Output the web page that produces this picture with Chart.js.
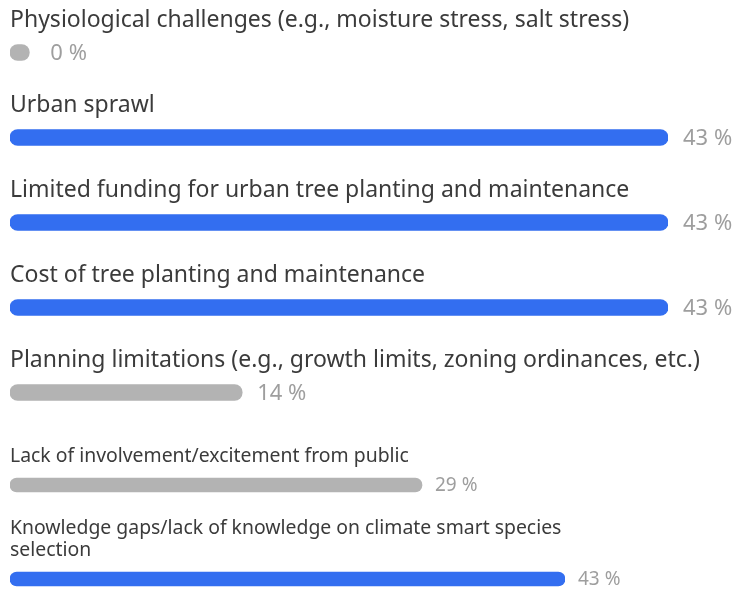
<!DOCTYPE html>
<html>
<head>
<meta charset="utf-8">
<script src="https://cdn.jsdelivr.net/npm/chart.js@4"></script>
<style>
  html, body { margin: 0; padding: 0; background: #fff; overflow: hidden; }
  #wrap { position: relative; width: 737px; height: 590px; overflow: hidden; }
  canvas { position: absolute; left: 0; }
  #topChart { top: 0; }
  #bottomChart { top: 400px; }
</style>
</head>
<body>
<div id="wrap">
  <canvas id="topChart" width="737" height="435"></canvas>
  <canvas id="bottomChart" width="737" height="226"></canvas>
</div>
<script>
// Data (share of respondents, %)
const topCategories = [
  "Physiological challenges (e.g., moisture stress, salt stress)",
  "Urban sprawl",
  "Limited funding for urban tree planting and maintenance",
  "Cost of tree planting and maintenance",
  "Planning limitations (e.g., growth limits, zoning ordinances, etc.)",
];
const topValues = [0, 42.9, 42.9, 42.9, 14.3];

const bottomCategories = [
  "Lack of involvement/excitement from public",
  "Knowledge gaps/lack of knowledge on climate smart species selection",
];
const bottomValues = [28.6, 42.9];

const BLUE = "#336ef0";
const GREY = "#b3b3b3";

function barColors(values) {
  const max = Math.max(...values);
  return values.map((v) => (v === max && v > 0 ? BLUE : GREY));
}

// wrap a label into lines that fit maxWidth
function wrapText(ctx, text, maxWidth) {
  const words = text.split(" ");
  const lines = [];
  let line = "";
  words.forEach((w) => {
    const test = line ? line + " " + w : w;
    if (ctx.measureText(test).width > maxWidth && line) {
      lines.push(line);
      line = w;
    } else {
      line = test;
    }
  });
  if (line) lines.push(line);
  return lines;
}

// draws the category text above each bar and the % after it
function labelPlugin(opts) {
  return {
    id: "barLabels",
    afterDatasetsDraw(chart) {
      const { ctx } = chart;
      const meta = chart.getDatasetMeta(0);
      const labels = chart.data.labels;
      const values = chart.data.datasets[0].data;
      ctx.save();
      meta.data.forEach((bar, i) => {
        // category label
        ctx.font = opts.labelFont;
        ctx.fillStyle = "#3b3b3b";
        ctx.textAlign = "left";
        ctx.textBaseline = "alphabetic";
        const lines = wrapText(ctx, labels[i], opts.wrapWidth);
        lines.forEach((ln, j) => {
          const y = bar.y - opts.labelGap - (lines.length - 1 - j) * opts.lineHeight;
          ctx.fillText(ln, 10, y);
        });
        // value label
        ctx.font = opts.valueFont;
        ctx.fillStyle = "#9e9e9e";
        ctx.textBaseline = "middle";
        const gap = values[i] === 0 ? opts.valueGap + 6 : opts.valueGap;
        ctx.fillText(Math.round(values[i]) + " %", bar.x + gap, bar.y + 1);
      });
      ctx.restore();
    },
  };
}

function makeChart(id, categories, values, cfg) {
  return new Chart(document.getElementById(id), {
    type: "bar",
    data: {
      labels: categories,
      datasets: [
        {
          data: values,
          base: cfg.xMin,
          backgroundColor: barColors(values),
          barThickness: cfg.thickness,
          borderRadius: cfg.thickness / 2,
          borderSkipped: false,
        },
      ],
    },
    options: {
      indexAxis: "y",
      responsive: false,
      animation: false,
      devicePixelRatio: 1,
      layout: { padding: cfg.padding },
      scales: {
        x: { display: false, min: cfg.xMin, max: 42.9 },
        y: { display: false },
      },
      plugins: {
        legend: { display: false },
        tooltip: { enabled: false },
      },
    },
    plugins: [labelPlugin(cfg.labels)],
  });
}

makeChart("topChart", topCategories, topValues, {
  xMin: -1.3,
  thickness: 16,
  padding: { top: 10, bottom: 0, left: 10, right: 69 },
  labels: {
    labelFont: '23px "Noto Sans"',
    valueFont: '22px "Noto Sans"',
    labelGap: 26,
    lineHeight: 28,
    valueGap: 15,
    wrapWidth: 720,
  },
});

makeChart("bottomChart", bottomCategories, bottomValues, {
  xMin: -12.6,
  thickness: 14,
  padding: { top: 38, bottom: 0, left: 10, right: 172 },
  labels: {
    labelFont: '19.4px "Noto Sans"',
    valueFont: '19px "Noto Sans"',
    labelGap: 23,
    lineHeight: 22,
    valueGap: 13,
    wrapWidth: 570,
  },
});
</script>
</body>
</html>
